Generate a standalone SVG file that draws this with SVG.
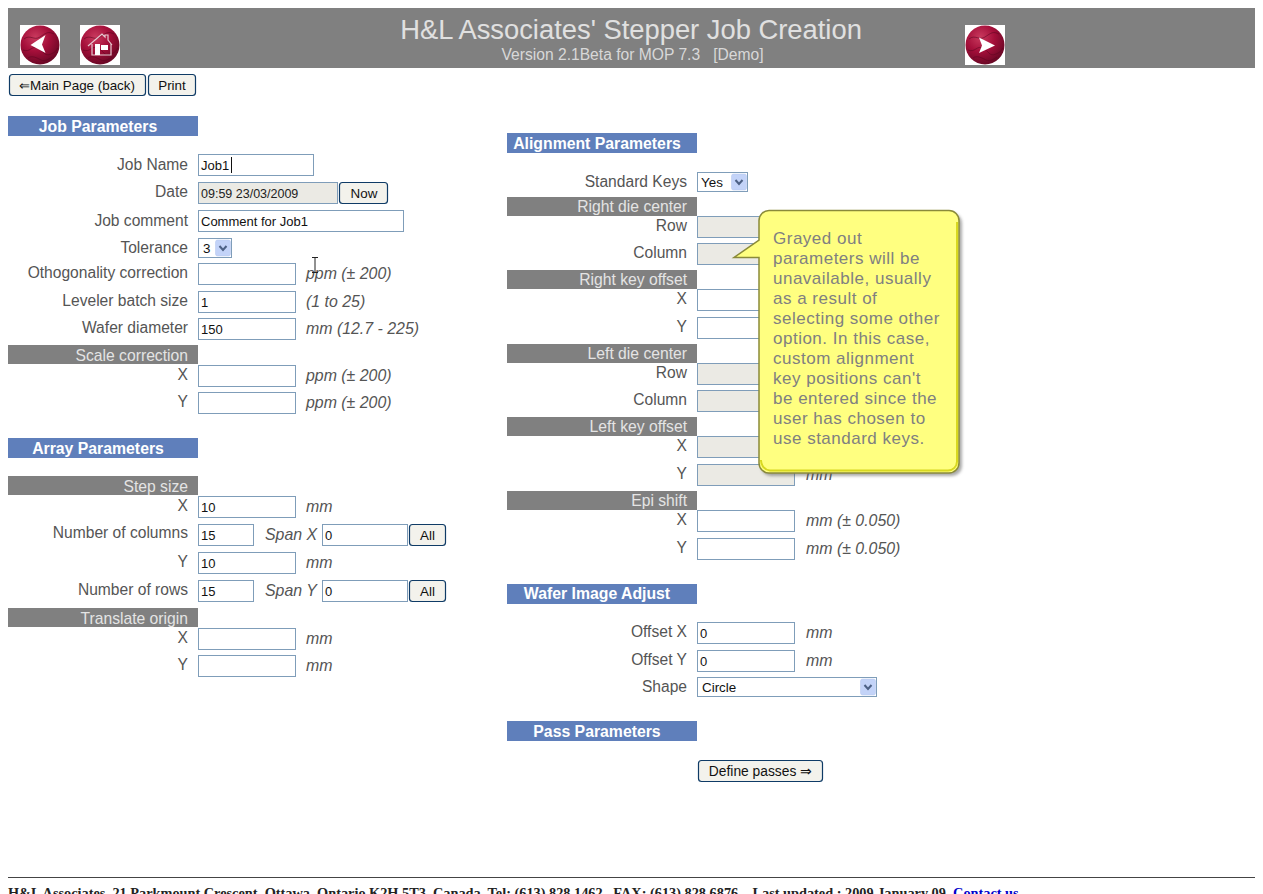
<svg xmlns="http://www.w3.org/2000/svg" xmlns:xlink="http://www.w3.org/1999/xlink" width="1263" height="894" viewBox="0 0 1263 894">
<style>
text{font-family:"Liberation Sans",Arial,sans-serif;white-space:pre}
.lb{font-size:15.6px;fill:#555;text-anchor:end}
.un{font-size:15.9px;fill:#555;font-style:italic}
.hd{font-size:15.8px;font-weight:bold;fill:#fff;text-anchor:middle}
.sb{font-size:15.7px;fill:#e4e4e4;text-anchor:end}
.bar{fill:#5f7fbb}
.sub{fill:#808080}
.in{fill:#fff;stroke:#7f9db9;stroke-width:1}
.dis{fill:#ebeae4;stroke:#7f9db9;stroke-width:1}
.val{font-size:13px;fill:#111}
.dt{font-size:12.5px;fill:#222}
.sel{font-size:13.4px;fill:#111}
.btn{fill:#f3f2ec;stroke:#0f3b66;stroke-width:1.2}
.bt{font-size:13.4px;fill:#111;text-anchor:middle}
.arw{fill:#c3d3f8;stroke:#b3c5ee;stroke-width:.5}
.chev{fill:none;stroke:#4d6185;stroke-width:2}
.co{font-size:17px;fill:#808080;letter-spacing:.5px}
.sw{fill:none;stroke:#5c0520;stroke-width:.8;opacity:.7}
</style>
<defs>
<radialGradient id="red" cx=".38" cy=".3" r=".8"><stop offset="0" stop-color="#c93a5e"/><stop offset=".45" stop-color="#a50f3a"/><stop offset="1" stop-color="#5c0520"/></radialGradient>
<filter id="soft" x="-10%" y="-10%" width="125%" height="125%"><feGaussianBlur stdDeviation="1.500"/></filter>
<g id="ball"><rect width="40" height="40" fill="#fff"/><circle cx="20" cy="20" r="19.500" fill="url(#red)"/><path class="sw" d="M4 14c6-5 10 2 16-2s8-6 14-3M3 25c7 3 9-5 15-2s6 9 13 6 5-5 7-6M8 33c4-3 9 0 13 2s8-1 11-3"/></g>
<g id="ar"><rect x="0" y="0" width="15" height="16" rx="2" class="arw"/><path d="M4 6l3.500 4 3.500-4" class="chev"/></g>
</defs>
<rect width="1263" height="894" fill="#fff"/>

<g id="header">
<rect x="8" y="8" width="1247" height="60" fill="#808080"/>
<text x="631" y="39" font-size="27.350" fill="#e0e0e0" text-anchor="middle">H&amp;L Associates' Stepper Job Creation</text>
<text x="632.500" y="60" font-size="15.640" fill="#d8d8d8" text-anchor="middle">Version 2.1Beta for MOP 7.3   [Demo]</text>
<g id="icon-back" transform="translate(20,25)"><use xlink:href="#ball"/><path d="M10.500 20L25.500 10 22 19.500 25.500 28Z" fill="#fff"/></g>
<g id="icon-home" transform="translate(80,25)"><use xlink:href="#ball"/><path d="M8 21L22 9l3 3V10h3v5l4 5M12 19V30H31V19" fill="none" stroke="#e6c9d0" stroke-width="1.200"/><rect x="15" y="19" width="5" height="11" fill="#fff"/><rect x="21" y="20" width="7" height="5" fill="#fff"/></g>
<g id="icon-next" transform="translate(965,25)"><use xlink:href="#ball"/><path d="M14 12.500L30 20.500 14 28 17 20.500Z" fill="#fff"/></g>
</g>

<g id="top-buttons">
<g id="btn-main"><rect x="9.500" y="74.500" width="136" height="21" rx="3" class="btn"/><text x="77" y="90" class="bt">⇐Main Page (back)</text></g>
<g id="btn-print"><rect x="148.500" y="74.500" width="47" height="21" rx="3" class="btn"/><text x="172" y="90" class="bt">Print</text></g>
</g>

<g id="job-parameters">
<rect x="8" y="116" width="190" height="20" class="bar"/><text x="98" y="132" class="hd">Job Parameters</text>
<text x="188" y="170" class="lb">Job Name</text><rect x="198.500" y="154.500" width="115" height="21" class="in"/><text x="201" y="170" class="val">Job1</text><path d="M231.500 157V173" stroke="#111"/>
<text x="188" y="197" class="lb">Date</text><rect x="198.500" y="182.500" width="139" height="21" class="dis"/><text x="201" y="198" class="dt">09:59 23/03/2009</text>
<rect x="339.500" y="182.500" width="48" height="21" rx="3" class="btn"/><text x="364" y="198" class="bt">Now</text>
<text x="188" y="226" class="lb">Job comment</text><rect x="198.500" y="210.500" width="205" height="21" class="in"/><text x="201" y="226" class="val">Comment for Job1</text>
<text x="188" y="253" class="lb">Tolerance</text><rect x="198.500" y="238.500" width="33" height="19" class="in"/><text x="203" y="253" class="sel">3</text><use xlink:href="#ar" x="215.500" y="240"/>
<text x="188" y="278" class="lb">Othogonality correction</text><rect x="198.500" y="263.500" width="97" height="21" class="in"/><text x="306" y="279" class="un">ppm (± 200)</text>
<path d="M312 257.500h6M315 257.500V272M312 272.500h6" stroke="#222" fill="none"/>
<text x="188" y="306" class="lb">Leveler batch size</text><rect x="198.500" y="291.500" width="97" height="21" class="in"/><text x="201" y="307" class="val">1</text><text x="306" y="307" class="un">(1 to 25)</text>
<text x="188" y="333" class="lb">Wafer diameter</text><rect x="198.500" y="318.500" width="97" height="21" class="in"/><text x="201" y="334" class="val">150</text><text x="306" y="334" class="un">mm (12.7 - 225)</text>
<rect x="8" y="345" width="190" height="19" class="sub"/><text x="188" y="361" class="sb">Scale correction</text>
<text x="188" y="380" class="lb">X</text><rect x="198.500" y="365.500" width="97" height="21" class="in"/><text x="306" y="381" class="un">ppm (± 200)</text>
<text x="188" y="407" class="lb">Y</text><rect x="198.500" y="392.500" width="97" height="21" class="in"/><text x="306" y="408" class="un">ppm (± 200)</text>
</g>

<g id="array-parameters">
<rect x="8" y="438" width="190" height="20" class="bar"/><text x="98" y="454" class="hd">Array Parameters</text>
<rect x="8" y="476" width="190" height="19" class="sub"/><text x="188" y="492" class="sb">Step size</text>
<text x="188" y="511" class="lb">X</text><rect x="198.500" y="496.500" width="97" height="21" class="in"/><text x="201" y="512" class="val">10</text><text x="306" y="512" class="un">mm</text>
<text x="188" y="538" class="lb">Number of columns</text><rect x="198.500" y="524.500" width="55" height="21" class="in"/><text x="201" y="540" class="val">15</text><text x="265" y="540" class="un">Span X</text><rect x="322.500" y="524.500" width="85" height="21" class="in"/><text x="325" y="540" class="val">0</text>
<rect x="409.500" y="524.500" width="36" height="21" rx="3" class="btn"/><text x="427.500" y="540" class="bt">All</text>
<text x="188" y="567" class="lb">Y</text><rect x="198.500" y="552.500" width="97" height="21" class="in"/><text x="201" y="568" class="val">10</text><text x="306" y="568" class="un">mm</text>
<text x="188" y="595" class="lb">Number of rows</text><rect x="198.500" y="580.500" width="55" height="21" class="in"/><text x="201" y="596" class="val">15</text><text x="265" y="596" class="un">Span Y</text><rect x="322.500" y="580.500" width="85" height="21" class="in"/><text x="325" y="596" class="val">0</text>
<rect x="409.500" y="580.500" width="36" height="21" rx="3" class="btn"/><text x="427.500" y="596" class="bt">All</text>
<rect x="8" y="608" width="190" height="19" class="sub"/><text x="188" y="624" class="sb">Translate origin</text>
<text x="188" y="643" class="lb">X</text><rect x="198.500" y="628.500" width="97" height="21" class="in"/><text x="306" y="644" class="un">mm</text>
<text x="188" y="670" class="lb">Y</text><rect x="198.500" y="655.500" width="97" height="21" class="in"/><text x="306" y="671" class="un">mm</text>
</g>

<g id="alignment-parameters">
<rect x="507" y="133" width="190" height="20" class="bar"/><text x="597" y="149" class="hd">Alignment Parameters</text>
<text x="687" y="187" class="lb">Standard Keys</text><rect x="697.500" y="172.500" width="50" height="19" class="in"/><text x="701" y="187" class="sel">Yes</text><use xlink:href="#ar" x="731.500" y="174"/>
<rect x="507" y="197" width="190" height="19" class="sub"/><text x="687" y="212" class="sb">Right die center</text>
<text x="687" y="231" class="lb">Row</text><rect x="697.500" y="216.500" width="97" height="21" class="dis"/>
<text x="687" y="258" class="lb">Column</text><rect x="697.500" y="243.500" width="97" height="21" class="dis"/>
<rect x="507" y="270" width="190" height="19" class="sub"/><text x="687" y="285" class="sb">Right key offset</text>
<text x="687" y="304" class="lb">X</text><rect x="697.500" y="289.500" width="97" height="21" class="in"/>
<text x="687" y="332" class="lb">Y</text><rect x="697.500" y="317.500" width="97" height="21" class="in"/>
<rect x="507" y="344" width="190" height="19" class="sub"/><text x="687" y="359" class="sb">Left die center</text>
<text x="687" y="378" class="lb">Row</text><rect x="697.500" y="363.500" width="97" height="21" class="dis"/>
<text x="687" y="405" class="lb">Column</text><rect x="697.500" y="390.500" width="97" height="21" class="dis"/>
<rect x="507" y="417" width="190" height="19" class="sub"/><text x="687" y="432" class="sb">Left key offset</text>
<text x="687" y="451" class="lb">X</text><rect x="697.500" y="436.500" width="97" height="21" class="dis"/>
<text x="687" y="479" class="lb">Y</text><rect x="697.500" y="464.500" width="97" height="21" class="dis"/><text x="806" y="480" class="un">mm</text>
<rect x="507" y="491" width="190" height="19" class="sub"/><text x="687" y="506" class="sb">Epi shift</text>
<text x="687" y="525" class="lb">X</text><rect x="697.500" y="510.500" width="97" height="21" class="in"/><text x="806" y="526" class="un">mm (± 0.050)</text>
<text x="687" y="553" class="lb">Y</text><rect x="697.500" y="538.500" width="97" height="21" class="in"/><text x="806" y="554" class="un">mm (± 0.050)</text>
</g>

<g id="wafer-image-adjust">
<rect x="507" y="584" width="190" height="20" class="bar"/><text x="597" y="599" class="hd">Wafer Image Adjust</text>
<text x="687" y="637" class="lb">Offset X</text><rect x="697.500" y="622.500" width="97" height="21" class="in"/><text x="700" y="638" class="val">0</text><text x="806" y="638" class="un">mm</text>
<text x="687" y="665" class="lb">Offset Y</text><rect x="697.500" y="650.500" width="97" height="21" class="in"/><text x="700" y="666" class="val">0</text><text x="806" y="666" class="un">mm</text>
<text x="687" y="692" class="lb">Shape</text><rect x="697.500" y="677.500" width="179" height="19" class="in"/><text x="702" y="692" class="sel">Circle</text><use xlink:href="#ar" x="860.500" y="679"/>
</g>

<g id="pass-parameters">
<rect x="507" y="721" width="190" height="20" class="bar"/><text x="597" y="737" class="hd">Pass Parameters</text>
<rect x="698.500" y="760.500" width="124" height="21" rx="3" class="btn"/><text x="760.500" y="776" font-size="13.800" fill="#111" text-anchor="middle">Define passes ⇒</text>
</g>

<g id="callout">
<path d="M768 213H952a10 10 0 0 1 10 10V466a10 10 0 0 1-10 10H771a10 10 0 0 1-10-10V260L761 243V223a10 10 0 0 1 7-10Z" fill="#555" opacity=".5" filter="url(#soft)"/>
<path d="M769 210.500H949a10 10 0 0 1 10 10V463a10 10 0 0 1-10 10H769a10 10 0 0 1-10-10V257.500H734L759 240V220.500a10 10 0 0 1 10-10Z" fill="#ffff80" stroke="#8a8a3a" stroke-width="1.500"/>
<path d="M761 460a10 10 0 0 0 9 10.500H948a9 9 0 0 0 9-9V222" fill="none" stroke="#d8d820" stroke-width="2"/>
<text class="co" x="773" y="244">Grayed out</text>
<text class="co" x="773" y="264">parameters will be</text>
<text class="co" x="773" y="284">unavailable, usually</text>
<text class="co" x="773" y="304">as a result of</text>
<text class="co" x="773" y="324">selecting some other</text>
<text class="co" x="773" y="344">option. In this case,</text>
<text class="co" x="773" y="364">custom alignment</text>
<text class="co" x="773" y="384">key positions can't</text>
<text class="co" x="773" y="404">be entered since the</text>
<text class="co" x="773" y="424">user has chosen to</text>
<text class="co" x="773" y="444">use standard keys.</text>
</g>

<g id="footer">
<rect x="8" y="877" width="1247" height="1" fill="#444"/>
<text x="8" y="897.500" font-size="14.300" font-weight="bold" fill="#222" style="font-family:'Liberation Serif',serif">H&amp;L Associates, 21 Parkmount Crescent, Ottawa, Ontario K2H 5T3, Canada. Tel: (613) 828 1462   FAX: (613) 828 6876    Last updated : 2009 January 09  <tspan fill="#0000cc">Contact us</tspan></text>
</g>
</svg>
